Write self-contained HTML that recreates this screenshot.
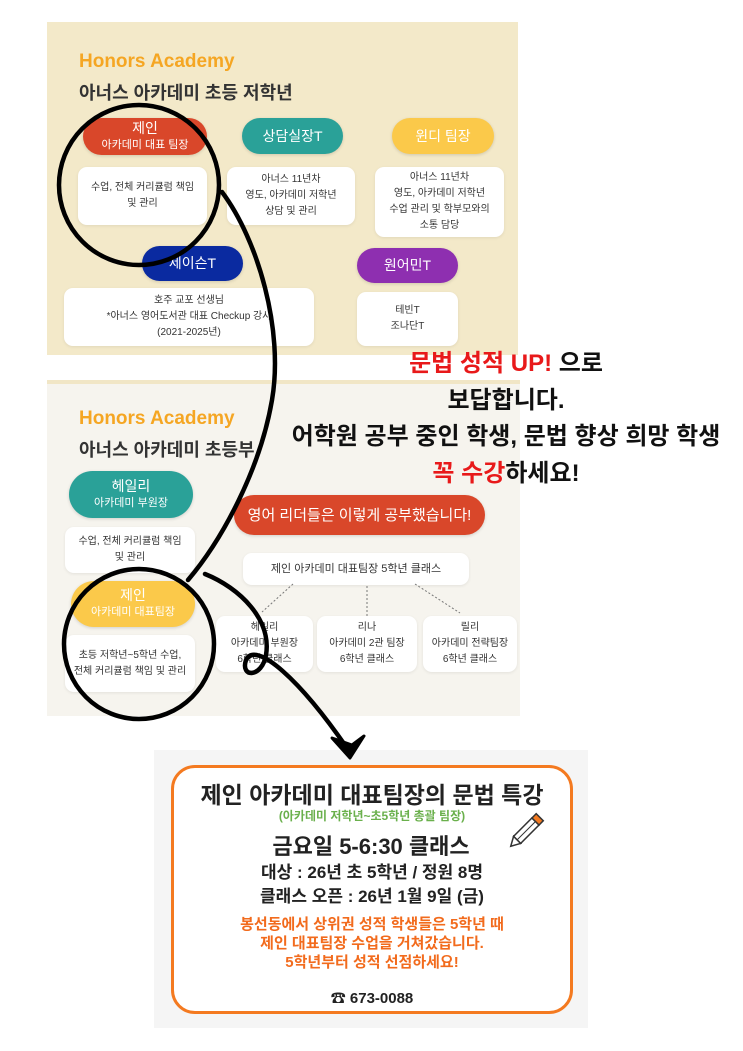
<!DOCTYPE html>
<html><head><meta charset="utf-8">
<style>
body{margin:0;width:743px;height:1051px;background:#fff;position:relative;overflow:hidden;font-family:"Liberation Sans","Noto Sans CJK KR",sans-serif;}
.a{position:absolute;}
.pill{position:absolute;border-radius:20px;color:#fff;text-align:center;display:flex;flex-direction:column;justify-content:center;font-size:14px;line-height:17px;box-shadow:0 1px 3px rgba(0,0,0,.15);}
.pill small{font-size:11px;}
.box{position:absolute;background:#fff;border-radius:9px;text-align:center;display:flex;flex-direction:column;justify-content:center;font-size:10px;line-height:16px;color:#333;box-shadow:0 1px 3px rgba(0,0,0,.08);}
.t{position:absolute;font-weight:bold;white-space:nowrap;}
</style></head><body>
<!-- panel 1 -->
<div class="a" style="left:47px;top:22px;width:471px;height:333px;background:#f3e9c9;"></div>
<div class="t" style="left:79px;top:51px;font-size:19px;color:#f5a623;">Honors Academy</div>
<div class="t" style="left:79px;top:79px;font-size:18px;color:#333;">아너스 아카데미 초등 저학년</div>
<div class="pill" style="left:83px;top:118px;width:124px;height:37px;background:#d9472a;">제인<small>아카데미 대표 팀장</small></div>
<div class="box" style="left:78px;top:167px;width:129px;height:58px;">수업, 전체 커리큘럼 책임<br>및 관리</div>
<div class="pill" style="left:242px;top:118px;width:101px;height:36px;background:#2aa198;">상담실장T</div>
<div class="box" style="left:227px;top:167px;width:128px;height:58px;">아너스 11년차<br>영도, 아카데미 저학년<br>상담 및 관리</div>
<div class="pill" style="left:392px;top:118px;width:102px;height:36px;background:#fbc94a;">윈디 팀장</div>
<div class="box" style="left:375px;top:167px;width:129px;height:70px;">아너스 11년차<br>영도, 아카데미 저학년<br>수업 관리 및 학부모와의<br>소통 담당</div>
<div class="pill" style="left:142px;top:246px;width:101px;height:35px;background:#0a2aa0;">제이슨T</div>
<div class="box" style="left:64px;top:288px;width:250px;height:58px;">호주 교포 선생님<br>*아너스 영어도서관 대표 Checkup 강사<br>(2021-2025년)</div>
<div class="pill" style="left:357px;top:248px;width:101px;height:35px;background:#8e2fb0;">원어민T</div>
<div class="box" style="left:357px;top:292px;width:101px;height:54px;">테빈T<br>조나단T</div>
<!-- panel 2 -->
<div class="a" style="left:47px;top:380px;width:473px;height:332px;background:#f6f4ee;border-top:4px solid #f1e6c6;"></div>
<div class="t" style="left:79px;top:408px;font-size:19px;color:#f5a623;">Honors Academy</div>
<div class="t" style="left:79px;top:436px;font-size:18px;color:#333;">아너스 아카데미 초등부</div>
<div class="pill" style="left:69px;top:471px;width:124px;height:47px;background:#2aa198;border-radius:24px;">헤일리<small>아카데미 부원장</small></div>
<div class="box" style="left:65px;top:527px;width:130px;height:46px;">수업, 전체 커리큘럼 책임<br>및 관리</div>
<div class="pill" style="left:71px;top:581px;width:124px;height:46px;background:#fbc94a;border-radius:24px;">제인<small>아카데미 대표팀장</small></div>
<div class="box" style="left:65px;top:635px;width:130px;height:57px;">초등 저학년~5학년 수업,<br>전체 커리큘럼 책임 및 관리</div>
<div class="pill" style="left:234px;top:495px;width:251px;height:40px;background:#d9472a;font-size:15px;">영어 리더들은 이렇게 공부했습니다!</div>
<div class="box" style="left:243px;top:553px;width:226px;height:32px;font-size:11px;">제인 아카데미 대표팀장 5학년 클래스</div>
<div class="box" style="left:216px;top:616px;width:97px;height:56px;">헤일리<br>아카데미 부원장<br>6학년 클래스</div>
<div class="box" style="left:317px;top:616px;width:100px;height:56px;">리나<br>아카데미 2관 팀장<br>6학년 클래스</div>
<div class="box" style="left:423px;top:616px;width:94px;height:56px;">릴리<br>아카데미 전략팀장<br>6학년 클래스</div>
<svg class="a" style="left:0;top:0" width="743" height="1051">
<g stroke="#777" stroke-width="1" stroke-dasharray="2,2" fill="none">
<line x1="293" y1="584" x2="262" y2="612"/><line x1="367" y1="586" x2="367" y2="616"/><line x1="415" y1="584" x2="460" y2="613"/>
</g></svg>
<!-- middle text -->
<div class="t" style="left:256px;top:346px;width:500px;text-align:center;font-size:24px;line-height:36.5px;color:#111;">
<span style="color:#e8191a">문법 성적 UP!</span> 으로<br>보답합니다.<br>어학원 공부 중인 학생, 문법 향상 희망 학생<br><span style="color:#e8191a">꼭 수강</span>하세요!</div>
<!-- panel 3 -->
<div class="a" style="left:154px;top:750px;width:434px;height:278px;background:#f5f5f5;"></div>
<div class="a" style="left:171px;top:765px;width:396px;height:243px;background:#fff;border:3px solid #f47a20;border-radius:24px;"></div>
<div class="t" style="left:171px;top:776px;width:402px;text-align:center;font-size:23px;color:#222;">제인 아카데미 대표팀장의 문법 특강</div>
<div class="t" style="left:171px;top:807px;width:402px;text-align:center;font-size:12px;color:#6ab04c;">(아카데미 저학년~초5학년 총괄 팀장)</div>
<div class="t" style="left:171px;top:829px;width:400px;text-align:center;font-size:22px;color:#222;">금요일 5-6:30 클래스</div>
<div class="t" style="left:171px;top:861px;width:402px;text-align:center;font-size:17px;line-height:24px;color:#222;">대상 : 26년 초 5학년 / 정원 8명<br>클래스 오픈 : 26년 1월 9일 (금)</div>
<div class="t" style="left:171px;top:915px;width:402px;text-align:center;font-size:15px;line-height:19px;color:#f26b1d;">봉선동에서 상위권 성적 학생들은 5학년 때<br>제인 대표팀장 수업을 거쳐갔습니다.<br>5학년부터 성적 선점하세요!</div>
<div class="t" style="left:171px;top:987px;width:402px;text-align:center;font-size:15px;color:#222;">☎ 673-0088</div>
<svg class="a" style="left:0;top:0" width="743" height="1051">
<g transform="translate(527,830) rotate(-45)">
<rect x="-14" y="-5" width="26" height="10" fill="#fff" stroke="#333" stroke-width="1.5"/>
<rect x="12" y="-5" width="6" height="10" fill="#f47a20" stroke="#333" stroke-width="1.5"/>
<polygon points="-14,-5 -23,0 -14,5" fill="#fff" stroke="#333" stroke-width="1.5"/>
<line x1="-14" y1="0" x2="12" y2="0" stroke="#333" stroke-width="1"/>
</g>
<g fill="none" stroke="#000" stroke-width="4.5" stroke-linecap="round">
<ellipse cx="139" cy="185" rx="80" ry="80"/>
<ellipse cx="139" cy="644" rx="75" ry="75"/>
<path d="M222,192 C258,240 284,330 272,400 C260,470 222,540 188,580"/>
<path d="M205,574 C240,588 272,620 266,655 C262,678 240,678 246,660 C256,640 300,680 347,748"/>
</g>
<polygon points="332,738 350,758 364,736 352,745" fill="#000" stroke="#000" stroke-width="3" stroke-linejoin="round"/>
</svg>
</body></html>
